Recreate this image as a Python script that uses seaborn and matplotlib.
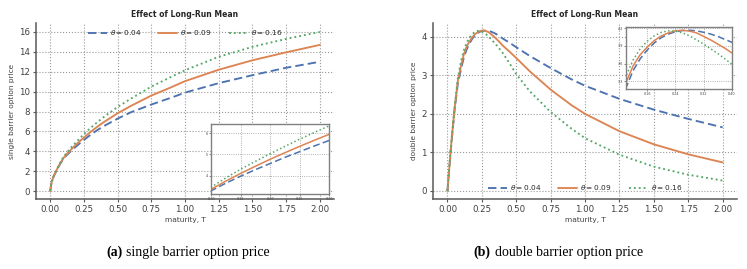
import numpy as np
import pandas as pd
import matplotlib
matplotlib.use("Agg")
import matplotlib.pyplot as plt
import seaborn as sns
from matplotlib.offsetbox import TextArea, HPacker, AnnotationBbox

# ----------------------------------------------------------
# Data
# ----------------------------------------------------------

theta_labels = [r"$\theta = 0.04$", r"$\theta = 0.09$", r"$\theta = 0.16$"]

# (a) single barrier option price
maturity_a = [0, 0.01, 0.025, 0.05, 0.075, 0.1, 0.125, 0.15, 0.175, 0.2, 0.225, 0.25,
              0.275, 0.3, 0.35, 0.4, 0.5, 0.6, 0.75, 0.9, 1.0, 1.25, 1.5, 1.75, 2.0]
single_004 = [0, 0.85, 1.45, 2.15, 2.75, 3.28, 3.64, 3.97, 4.28, 4.57, 4.86, 5.13,
              5.40, 5.66, 6.13, 6.55, 7.28, 7.93, 8.70, 9.40, 9.90, 10.85, 11.65, 12.40, 13.00]
single_009 = [0, 0.85, 1.45, 2.17, 2.80, 3.35, 3.74, 4.10, 4.44, 4.77, 5.08, 5.38,
              5.67, 5.95, 6.47, 6.95, 7.82, 8.57, 9.60, 10.45, 11.05, 12.20, 13.15, 13.95, 14.70]
single_016 = [0, 0.85, 1.47, 2.20, 2.86, 3.45, 3.89, 4.30, 4.67, 5.03, 5.38, 5.72,
              6.04, 6.35, 6.93, 7.47, 8.45, 9.30, 10.50, 11.50, 12.15, 13.50, 14.50, 15.30, 16.00]

# (b) double barrier option price
maturity_b = [0, 0.01, 0.025, 0.05, 0.075, 0.1, 0.12, 0.14, 0.16, 0.18, 0.2, 0.22, 0.24,
              0.26, 0.28, 0.3, 0.32, 0.34, 0.36, 0.38, 0.4, 0.45, 0.5, 0.6, 0.75, 0.9,
              1.0, 1.25, 1.5, 1.75, 2.0]
double_004 = [0, 0.45, 1.10, 2.05, 2.78, 3.19, 3.48, 3.68, 3.83, 3.95, 4.04, 4.10, 4.14,
              4.16, 4.165, 4.155, 4.13, 4.10, 4.06, 4.01, 3.96, 3.85, 3.73, 3.50, 3.19, 2.90,
              2.73, 2.39, 2.11, 1.87, 1.65]
double_009 = [0, 0.45, 1.12, 2.08, 2.84, 3.28, 3.56, 3.75, 3.88, 3.99, 4.07, 4.12, 4.155,
              4.165, 4.15, 4.12, 4.06, 4.00, 3.93, 3.86, 3.78, 3.62, 3.45, 3.10, 2.63, 2.23,
              2.00, 1.55, 1.21, 0.95, 0.74]
double_016 = [0, 0.50, 1.15, 2.12, 2.92, 3.39, 3.66, 3.85, 3.98, 4.07, 4.13, 4.155, 4.15,
              4.12, 4.07, 4.00, 3.93, 3.85, 3.77, 3.68, 3.59, 3.32, 3.03, 2.58, 2.05, 1.62,
              1.37, 0.94, 0.63, 0.42, 0.27]

maturity_ticks = [0, 0.25, 0.5, 0.75, 1.0, 1.25, 1.5, 1.75, 2.0]

# ----------------------------------------------------------
# Style
# ----------------------------------------------------------

sns.set_theme(style="ticks", rc={
    "axes.edgecolor": ".35",
    "axes.linewidth": 1.1,
    "xtick.color": ".35",
    "ytick.color": ".35",
    "xtick.labelcolor": ".25",
    "ytick.labelcolor": ".25",
    "axes.labelcolor": ".25",
    "grid.linestyle": ":",
    "grid.color": ".6",
    "grid.linewidth": 0.8,
})
plt.rcParams["font.family"] = ["DejaVu Sans"]

palette = sns.color_palette("deep")
colors = [palette[0], palette[1], palette[2]]
styles = [(0, (4.5, 2.2)), "-", (0, (1, 1.6))]

fig = plt.figure(figsize=(7.47, 2.69), dpi=100)


def draw_curves(ax, maturity, values, lw, with_labels):
    for vals, lab, c, ls in zip(values, theta_labels, colors, styles):
        kw = dict(label=lab) if with_labels else {}
        sns.lineplot(x=maturity, y=vals, ax=ax, color=c, linestyle=ls,
                     linewidth=lw, **kw)


def style_main(ax, ylabel):
    ax.set_title("Effect of Long-Run Mean", fontsize=5.5, fontweight="bold", pad=4)
    ax.set_xlabel("maturity, T", fontsize=5.3, labelpad=2)
    ax.set_ylabel(ylabel, fontsize=5.3, labelpad=3)
    ax.set_xticks(maturity_ticks)
    ax.set_xlim(-0.105, 2.105)
    ax.tick_params(labelsize=6.2, length=2.5, width=0.8, pad=2)
    ax.grid(True)
    sns.despine(ax=ax)


def style_inset(ax, xticks, yticks, xlim, ylim, fmt_x, fmt_y):
    ax.set_xlim(*xlim)
    ax.set_ylim(*ylim)
    ax.set_xticks(xticks)
    ax.set_yticks(yticks)
    ax.set_xticklabels([fmt_x.format(v) for v in xticks])
    ax.set_yticklabels([fmt_y.format(v) for v in yticks])
    ax.set_xlabel("")
    ax.set_ylabel("")
    ax.tick_params(labelsize=2.4, length=1.2, width=0.5, pad=1)
    ax.grid(True, linewidth=0.6)
    for s in ax.spines.values():
        s.set_visible(True)
        s.set_color(".5")
        s.set_linewidth(1.0)
    if ax.get_legend() is not None:
        ax.get_legend().remove()


legend_kw = dict(ncol=3, frameon=False, fontsize=5.3, handlelength=2.6,
                 handletextpad=0.4, columnspacing=2.3)

# ----------------------------------------------------------
# (a) single barrier
# ----------------------------------------------------------

ax_a = fig.add_axes([0.0482, 0.2602, 0.3989, 0.6543])
draw_curves(ax_a, maturity_a, [single_004, single_009, single_016], 1.35, True)
style_main(ax_a, "single barrier option price")
ax_a.set_ylim(-0.8, 16.9)
ax_a.set_yticks(range(0, 17, 2))
ax_a.legend(loc="upper center", borderaxespad=0.3, **legend_kw)

ins_a = fig.add_axes([0.2825, 0.2788, 0.158, 0.2602])
draw_curves(ins_a, maturity_a, [single_004, single_009, single_016], 1.1, False)
style_inset(ins_a, [0.10, 0.15, 0.20, 0.25, 0.30], [4, 5, 6],
            (0.10, 0.30), (3.13, 6.44), "{:.2f}", "{:.0f}")

# ----------------------------------------------------------
# (b) double barrier
# ----------------------------------------------------------

ax_b = fig.add_axes([0.5797, 0.2602, 0.4070, 0.6543])
draw_curves(ax_b, maturity_b, [double_004, double_009, double_016], 1.35, True)
style_main(ax_b, "double barrier option price")
ax_b.set_ylim(-0.21, 4.36)
ax_b.set_yticks(range(0, 5))
ax_b.legend(loc="lower center", borderaxespad=0.5, **legend_kw)

ins_b = fig.add_axes([0.838, 0.6691, 0.1419, 0.2305])
draw_curves(ins_b, maturity_b, [double_004, double_009, double_016], 1.1, False)
style_inset(ins_b, [0.16, 0.24, 0.32, 0.40], [3.3, 3.6, 3.9, 4.2],
            (0.10, 0.40), (3.17, 4.22), "{:.2f}", "{:.1f}")

# ----------------------------------------------------------
# Captions
# ----------------------------------------------------------

cap_font = dict(fontfamily="Liberation Serif", fontsize=10, color="black")
for tag, text, xpos in [("(a)", "single barrier option price", 0.2517),
                        ("(b)", "double barrier option price", 0.747)]:
    box = HPacker(children=[TextArea(tag, textprops=dict(cap_font, fontweight="bold")),
                            TextArea(text, textprops=cap_font)],
                  sep=3, pad=0, align="baseline")
    fig.add_artist(AnnotationBbox(box, (xpos, 0.063), xycoords="figure fraction",
                                  frameon=False, box_alignment=(0.5, 0.5), pad=0))

fig.savefig("out.png", dpi=100)
